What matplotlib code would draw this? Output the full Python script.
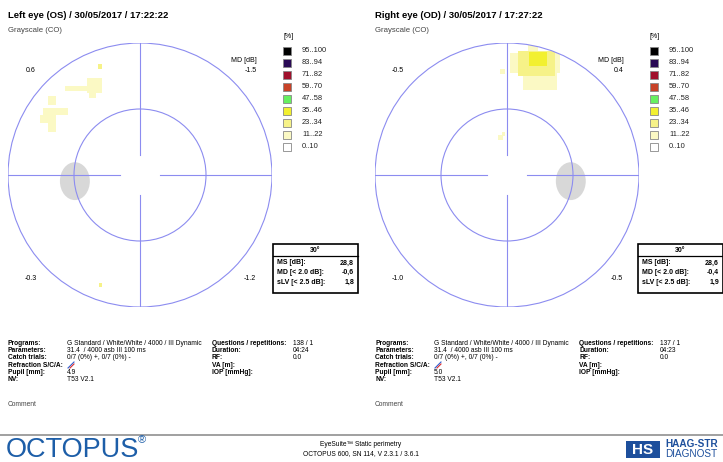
import matplotlib.pyplot as plt
from matplotlib.patches import Circle, Ellipse, Rectangle

W, H = 723, 462

# ---- data ----
legend_ranges = ["95..100", "83..94", "71..82", "59..70", "47..58",
                 "35..46", "23..34", "11..22", "0..10"]
legend_colors = ["#000000", "#2a0a55", "#a0102c", "#c84228", "#66f060",
                 "#f2f030", "#f6f288", "#fbf9c4", "#ffffff"]

eyes = ["Left eye (OS) / 30/05/2017 / 17:22:22",
        "Right eye (OD) / 30/05/2017 / 17:27:22"]
md_values = ["-1.5", "0.4"]
quadrant_values = [["0.6", "-0.3", "-1.2"], ["-0.5", "-1.0", "-0.5"]]
blind_spot_x = [-14.8, 14.5]

stat_labels = ["MS [dB]:", "MD [< 2.0 dB]:", "sLV [< 2.5 dB]:"]
stat_values = [["28,8", "-0,6", "1,8"], ["28,6", "-0,4", "1,9"]]

info_labels = ["Programs:", "Parameters:", "Catch trials:", "Refraction S/C/A:",
               "Pupil [mm]:", "NV:"]
info_values = [
    ["G Standard / White/White / 4000 / III Dynamic", "31.4  / 4000 asb III 100 ms",
     "0/7 (0%) +, 0/7 (0%) -", "", "4.9", "T53 V2.1"],
    ["G Standard / White/White / 4000 / III Dynamic", "31.4  / 4000 asb III 100 ms",
     "0/7 (0%) +, 0/7 (0%) -", "", "5.0", "T53 V2.1"],
]
info2_labels = ["Questions / repetitions:", "Duration:", "RF:", "VA [m]:", "IOP [mmHg]:"]
info2_values = [["138 / 1", "04:24", "0.0", "", ""],
                ["137 / 1", "04:23", "0.0", "", ""]]

# grayscale cells: x0, x1, y0, y1 (degrees), legend index
left_cells = [
    (-17.0, -11.0, 19.0, 20.3, 7), (-12.0, -8.6, 18.6, 22.0, 7),
    (-11.5, -10.0, 17.4, 18.6, 7), (-9.6, -8.6, 24.2, 25.2, 6),
    (-21.0, -19.0, 16.0, 18.0, 7), (-22.0, -16.4, 13.6, 15.2, 7),
    (-22.7, -19.0, 11.8, 13.6, 7), (-21.0, -19.0, 9.8, 11.8, 7),
    (-9.4, -8.6, -25.4, -24.6, 6),
]
right_cells = [
    (0.7, 12.0, 23.2, 27.7, 7), (3.6, 11.4, 19.3, 23.2, 7),
    (4.8, 7.0, 27.5, 29.5, 7), (2.5, 11.0, 22.5, 28.2, 6),
    (5.0, 9.0, 24.8, 28.0, 5), (-1.5, -0.5, 23.0, 24.2, 7),
    (-2.0, -1.0, 8.0, 9.0, 7), (-1.2, -0.4, 8.8, 9.8, 7),
]
cells = [left_cells, right_cells]

# ---- figure ----
fig = plt.figure(figsize=(W / 100, H / 100), dpi=100)
plt.rcParams['font.family'] = ['Liberation Sans', 'DejaVu Sans']
bg = fig.add_axes([0, 0, 1, 1])
bg.set_xlim(0, W)
bg.set_ylim(H, 0)
bg.axis("off")

ring = "#8c8cf0"
offsets = [0, 367]
centers = [(140, 175), (507, 175)]
R = 132
fs_small = 5.0
fs_info = 4.8

for k in range(2):
    ox = offsets[k]
    cx, cy = centers[k]
    bg.text(8 + ox, 15, eyes[k], fontsize=6.8, fontweight="bold", va="center")
    bg.text(8 + ox, 30, "Grayscale (CO)", fontsize=5.6, color="#444444", va="center")

    ax = fig.add_axes([(cx - R) / W, (H - cy - R) / H, 2 * R / W, 2 * R / H])
    ax.set_xlim(-30, 30)
    ax.set_ylim(-30, 30)
    ax.set_aspect("equal")
    ax.axis("off")
    ax.patch.set_alpha(0)
    clip = Circle((0, 0), 30, transform=ax.transData)
    for x0, x1, y0, y1, lev in cells[k]:
        b = ax.bar(x0, y1 - y0, width=x1 - x0, bottom=y0, align="edge",
                   color=legend_colors[lev], linewidth=0)
        for p in b:
            p.set_clip_path(clip)
    ax.add_patch(Ellipse((blind_spot_x[k], -1.4), 6.8, 8.6, color="#d8d8d8", lw=0))
    ax.add_patch(Circle((0, 0), 30, fill=False, ec=ring, lw=0.8))
    ax.add_patch(Circle((0, 0), 15, fill=False, ec=ring, lw=0.8))
    ax.plot([-30, -4.5], [0, 0], color=ring, lw=0.8)
    ax.plot([4.5, 30], [0, 0], color=ring, lw=0.8)
    ax.plot([0, 0], [4.5, 30], color=ring, lw=0.8)
    ax.plot([0, 0], [-30, -4.5], color=ring, lw=0.8)

    # quadrant values
    qv = quadrant_values[k]
    bg.text(31 + ox, 70, qv[0], fontsize=fs_small, ha="center", va="center")
    bg.text(31 + ox, 278, qv[1], fontsize=fs_small, ha="center", va="center")
    bg.text(250 + ox, 278, qv[2], fontsize=fs_small, ha="center", va="center")
    bg.text(257 + ox, 60, "MD [dB]", fontsize=fs_small, ha="right", va="center")
    bg.text(257 + ox, 70, md_values[k], fontsize=fs_small, ha="right", va="center")

    # legend
    lx = [283, 650][k]
    bg.text(lx, 36, "[%]", fontsize=fs_small, va="center")
    for i, (lab, col) in enumerate(zip(legend_ranges, legend_colors)):
        y = 51 + 12 * i
        bg.add_patch(Rectangle((lx, y - 3.7), 7.5, 7.5, fc=col, ec="#888888", lw=0.6))
        bg.text(lx + 19, y, lab, fontsize=5.4, va="center", color="#222222")

    # stats box
    bx = [273, 638][k]
    bg.add_patch(Rectangle((bx, 244), 85, 49, fill=False, ec="black", lw=1.2))
    bg.plot([bx, bx + 85], [256, 256], color="black", lw=0.9)
    bg.text(bx + 42.5, 250, "30°", fontsize=fs_small, ha="center", va="center",
            fontweight="bold")
    for i in range(3):
        y = 263 + 9.5 * i
        bg.text(bx + 4, y, stat_labels[i], fontsize=5.0, va="center", fontweight="bold")
        bg.text(bx + 81, y, stat_values[k][i], fontsize=5.0, ha="right", va="center",
                fontweight="bold")

    # info block
    for i in range(6):
        y = 343.5 + 7.2 * i
        bg.text(8 + ox, y, info_labels[i], fontsize=fs_info, va="center", fontweight="bold")
        bg.text(67 + ox, y, info_values[k][i], fontsize=fs_info, va="center")
    bg.plot([68 + ox, 74 + ox], [368, 362], color="#3060d0", lw=0.8)
    bg.plot([70 + ox, 74 + ox], [368, 364], color="#e03030", lw=0.8)
    for i in range(5):
        y = 343.5 + 7.2 * i
        bg.text(212 + ox, y, info2_labels[i], fontsize=fs_info, va="center",
                fontweight="bold")
        bg.text(293 + ox, y, info2_values[k][i], fontsize=fs_info, va="center")
    bg.text(8 + ox, 405, "Comment", fontsize=fs_info, va="center", color="#444444")

# footer
bg.plot([0, W], [435, 435], color="#999999", lw=1.3)
bg.text(6, 450, "OCTOPUS", fontsize=19.5, color="#1d5ea8", va="center")
bg.text(138, 440, "®", fontsize=8, color="#1d5ea8", va="center")
bg.text(361, 445, "EyeSuite™ Static perimetry", fontsize=4.8, ha="center", va="center")
bg.text(361, 454, "OCTOPUS 600, SN 114, V 2.3.1 / 3.6.1", fontsize=4.8, ha="center",
        va="center")
bg.add_patch(Rectangle((626, 441), 34, 17, fc="#1d4f9c", lw=0))
bg.text(643, 449.5, "HS", fontsize=11, color="white", ha="center", va="center",
        fontweight="bold")
bg.text(665, 444, "HAAG-STR", fontsize=7.2, color="#1d4f9c", va="center",
        fontweight="bold")
bg.text(665, 454, "DIAGNOST", fontsize=7.2, color="#1d4f9c", va="center")

fig.savefig("out.png", dpi=100)
